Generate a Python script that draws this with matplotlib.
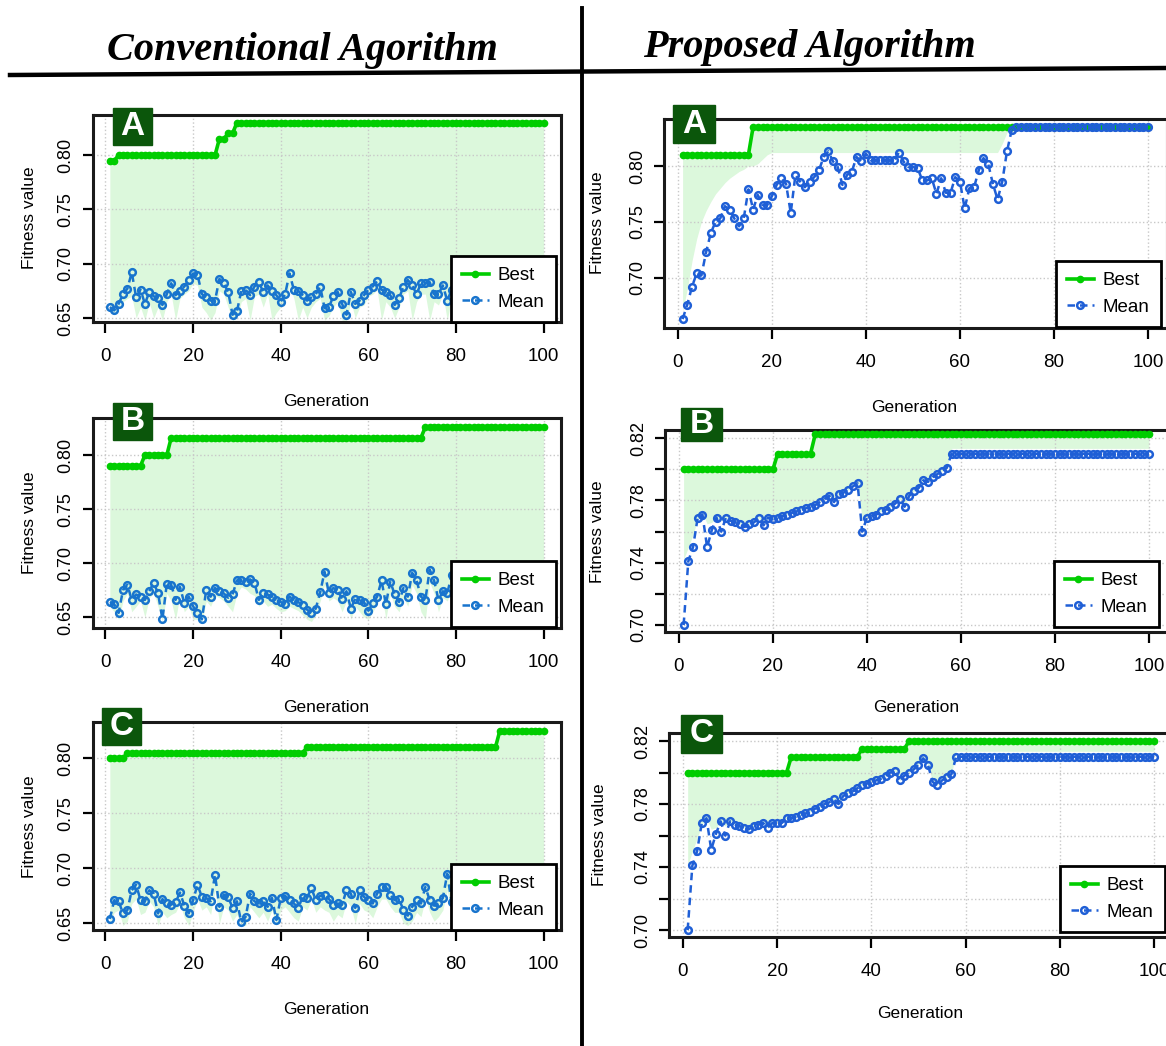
import numpy as np
import matplotlib.pyplot as plt
from matplotlib.lines import Line2D
from matplotlib.patches import Rectangle

W, H = 1166, 1046

gens = np.arange(1, 101)

# ---- conventional algorithm ----
left_a_best = np.repeat([0.795, 0.80, 0.815, 0.82, 0.83], [2, 23, 2, 2, 71])
left_a_mean = [0.660, 0.657, 0.663, 0.672, 0.677, 0.692, 0.669, 0.676, 0.663, 0.674,
               0.670, 0.668, 0.662, 0.672, 0.682, 0.671, 0.675, 0.679, 0.685, 0.691,
               0.690, 0.672, 0.669, 0.666, 0.666, 0.686, 0.682, 0.674, 0.653, 0.656,
               0.675, 0.676, 0.671, 0.679, 0.683, 0.674, 0.680, 0.675, 0.671, 0.665,
               0.672, 0.691, 0.676, 0.675, 0.671, 0.666, 0.669, 0.672, 0.679, 0.659,
               0.660, 0.670, 0.674, 0.663, 0.653, 0.674, 0.663, 0.666, 0.671, 0.676,
               0.679, 0.684, 0.676, 0.674, 0.671, 0.662, 0.668, 0.679, 0.685, 0.680,
               0.672, 0.682, 0.682, 0.683, 0.672, 0.672, 0.680, 0.666, 0.676, 0.688,
               0.680, 0.694, 0.675, 0.680, 0.670, 0.675, 0.678, 0.668, 0.672, 0.680,
               0.676, 0.672, 0.678, 0.670, 0.674, 0.680, 0.676, 0.672, 0.678, 0.674]
left_a_median = [0.658, 0.655, 0.660, 0.665, 0.668, 0.670, 0.650, 0.660, 0.648, 0.664,
                 0.650, 0.660, 0.648, 0.665, 0.672, 0.648, 0.668, 0.672, 0.675, 0.682,
                 0.680, 0.660, 0.655, 0.648, 0.655, 0.675, 0.672, 0.660, 0.648, 0.650,
                 0.665, 0.668, 0.648, 0.670, 0.672, 0.660, 0.672, 0.648, 0.655, 0.660,
                 0.665, 0.680, 0.668, 0.648, 0.660, 0.650, 0.660, 0.665, 0.668, 0.648,
                 0.652, 0.660, 0.665, 0.648, 0.648, 0.665, 0.650, 0.660, 0.662, 0.670,
                 0.672, 0.676, 0.648, 0.665, 0.660, 0.650, 0.660, 0.672, 0.675, 0.648,
                 0.665, 0.672, 0.672, 0.648, 0.665, 0.662, 0.672, 0.648, 0.668, 0.680,
                 0.672, 0.684, 0.665, 0.670, 0.660, 0.665, 0.670, 0.660, 0.665, 0.670,
                 0.668, 0.665, 0.670, 0.660, 0.665, 0.670, 0.668, 0.665, 0.670, 0.668]

left_b_best = np.repeat([0.79, 0.80, 0.816, 0.826], [8, 6, 58, 28])
left_b_mean = [0.664, 0.662, 0.654, 0.675, 0.680, 0.666, 0.671, 0.669, 0.666, 0.674,
               0.682, 0.672, 0.648, 0.681, 0.680, 0.666, 0.678, 0.663, 0.669, 0.660,
               0.654, 0.648, 0.675, 0.669, 0.677, 0.674, 0.672, 0.668, 0.671, 0.684,
               0.684, 0.683, 0.685, 0.682, 0.666, 0.672, 0.671, 0.669, 0.666, 0.664,
               0.662, 0.669, 0.666, 0.664, 0.661, 0.657, 0.654, 0.658, 0.673, 0.692,
               0.672, 0.677, 0.675, 0.667, 0.674, 0.658, 0.667, 0.666, 0.664, 0.656,
               0.663, 0.669, 0.684, 0.662, 0.683, 0.671, 0.664, 0.677, 0.669, 0.691,
               0.684, 0.669, 0.666, 0.694, 0.684, 0.666, 0.674, 0.672, 0.689, 0.652,
               0.657, 0.658, 0.662, 0.666, 0.670, 0.668, 0.672, 0.675, 0.670, 0.668,
               0.673, 0.676, 0.671, 0.669, 0.674, 0.672, 0.670, 0.675, 0.673, 0.671]
left_b_median = [0.660, 0.655, 0.648, 0.665, 0.672, 0.655, 0.660, 0.665, 0.650, 0.668,
                 0.672, 0.660, 0.646, 0.672, 0.665, 0.648, 0.670, 0.655, 0.660, 0.648,
                 0.648, 0.646, 0.665, 0.660, 0.670, 0.668, 0.665, 0.660, 0.655, 0.672,
                 0.678, 0.676, 0.672, 0.670, 0.660, 0.665, 0.660, 0.662, 0.658, 0.655,
                 0.656, 0.660, 0.658, 0.656, 0.652, 0.648, 0.646, 0.652, 0.665, 0.680,
                 0.665, 0.668, 0.665, 0.655, 0.665, 0.648, 0.660, 0.655, 0.650, 0.648,
                 0.655, 0.662, 0.672, 0.648, 0.672, 0.660, 0.655, 0.668, 0.660, 0.680,
                 0.672, 0.655, 0.648, 0.682, 0.672, 0.655, 0.668, 0.665, 0.675, 0.646,
                 0.650, 0.652, 0.655, 0.660, 0.662, 0.660, 0.665, 0.668, 0.662, 0.660,
                 0.665, 0.662, 0.668, 0.665, 0.660, 0.668, 0.665, 0.662, 0.665, 0.662]

left_c_best = np.repeat([0.80, 0.805, 0.81, 0.825], [4, 41, 44, 11])
left_c_mean = [0.654, 0.671, 0.670, 0.659, 0.662, 0.680, 0.685, 0.671, 0.670, 0.680,
               0.677, 0.659, 0.672, 0.668, 0.667, 0.669, 0.678, 0.666, 0.659, 0.671,
               0.685, 0.674, 0.673, 0.670, 0.694, 0.665, 0.676, 0.674, 0.664, 0.670,
               0.651, 0.656, 0.677, 0.670, 0.668, 0.670, 0.665, 0.673, 0.653, 0.673,
               0.675, 0.671, 0.668, 0.664, 0.674, 0.673, 0.682, 0.671, 0.675, 0.676,
               0.672, 0.667, 0.668, 0.667, 0.680, 0.677, 0.664, 0.680, 0.674, 0.671,
               0.668, 0.677, 0.683, 0.683, 0.676, 0.671, 0.672, 0.662, 0.657, 0.665,
               0.671, 0.668, 0.683, 0.671, 0.666, 0.668, 0.673, 0.695, 0.669, 0.670,
               0.674, 0.682, 0.676, 0.672, 0.678, 0.674, 0.670, 0.676, 0.679, 0.673,
               0.671, 0.677, 0.674, 0.670, 0.675, 0.678, 0.672, 0.674, 0.676, 0.673]
left_c_median = [0.650, 0.660, 0.662, 0.648, 0.652, 0.668, 0.672, 0.658, 0.660, 0.670,
                 0.665, 0.648, 0.660, 0.655, 0.658, 0.660, 0.668, 0.655, 0.648, 0.660,
                 0.672, 0.662, 0.665, 0.658, 0.680, 0.650, 0.665, 0.662, 0.652, 0.658,
                 0.648, 0.648, 0.665, 0.660, 0.655, 0.660, 0.652, 0.662, 0.648, 0.662,
                 0.665, 0.660, 0.655, 0.652, 0.665, 0.662, 0.672, 0.660, 0.665, 0.662,
                 0.660, 0.652, 0.658, 0.655, 0.670, 0.665, 0.650, 0.668, 0.662, 0.660,
                 0.655, 0.665, 0.672, 0.672, 0.665, 0.660, 0.660, 0.650, 0.648, 0.652,
                 0.660, 0.656, 0.672, 0.660, 0.652, 0.656, 0.662, 0.680, 0.658, 0.660,
                 0.665, 0.672, 0.665, 0.662, 0.668, 0.665, 0.660, 0.665, 0.668, 0.662,
                 0.660, 0.665, 0.662, 0.660, 0.665, 0.668, 0.662, 0.660, 0.665, 0.662]

# ---- proposed algorithm ----
right_a_best = np.repeat([0.81, 0.835], [15, 85])
right_a_mean = np.concatenate([
    [0.663, 0.676, 0.692, 0.704, 0.702, 0.723, 0.740, 0.750, 0.753, 0.764,
     0.761, 0.753, 0.746, 0.753, 0.779, 0.761, 0.774, 0.765, 0.765, 0.773,
     0.783, 0.789, 0.784, 0.758, 0.792, 0.786, 0.781, 0.786, 0.790, 0.796,
     0.808, 0.813, 0.804, 0.799, 0.783, 0.792, 0.795, 0.808, 0.804, 0.811,
     0.805, 0.805, 0.805, 0.805, 0.805, 0.805, 0.812, 0.804, 0.799, 0.799,
     0.798, 0.787, 0.787, 0.789, 0.775, 0.789, 0.776, 0.776, 0.790, 0.786,
     0.762, 0.780, 0.781, 0.796, 0.807, 0.802, 0.784, 0.770, 0.786, 0.813,
     0.832],
    np.repeat(0.835, 29)])
right_a_median = np.concatenate([
    [0.670, 0.690, 0.715, 0.735, 0.750, 0.760, 0.768, 0.775, 0.780, 0.785,
     0.789, 0.792, 0.795, 0.797, 0.800, 0.800, 0.802, 0.806, 0.810],
    np.repeat(0.812, 49), [0.820, 0.830], np.repeat(0.835, 30)])

right_b_best = np.repeat([0.80, 0.81, 0.8225], [20, 8, 72])
right_b_mean = np.concatenate([
    [0.700, 0.741, 0.750, 0.769, 0.771, 0.750, 0.761, 0.769, 0.760, 0.769,
     0.767, 0.766, 0.765, 0.763, 0.765, 0.766, 0.769, 0.764, 0.769, 0.768,
     0.769, 0.770, 0.771, 0.772, 0.773, 0.774, 0.775, 0.776, 0.777, 0.779,
     0.781, 0.783, 0.779, 0.784, 0.785, 0.787, 0.789, 0.791, 0.760, 0.769,
     0.770, 0.771, 0.773, 0.774, 0.776, 0.778, 0.781, 0.776, 0.783, 0.786,
     0.788, 0.793, 0.792, 0.795, 0.797, 0.799, 0.801, 0.810],
    np.repeat(0.81, 42)])
right_b_median = np.concatenate([
    [0.742, 0.750, 0.758, 0.768, 0.772, 0.765, 0.766, 0.769, 0.767, 0.769],
    right_b_mean[10:38], [0.7675], right_b_mean[39:57], np.repeat(0.8135, 43)])

right_c_best = np.repeat([0.80, 0.81, 0.815, 0.82], [22, 15, 10, 53])
right_c_mean = np.concatenate([
    [0.700, 0.741, 0.750, 0.768, 0.771, 0.751, 0.761, 0.769, 0.760, 0.769,
     0.767, 0.766, 0.765, 0.764, 0.766, 0.767, 0.768, 0.765, 0.768, 0.768,
     0.768, 0.771, 0.771, 0.772, 0.773, 0.774, 0.775, 0.777, 0.778, 0.780,
     0.781, 0.783, 0.780, 0.785, 0.787, 0.788, 0.790, 0.792, 0.793, 0.794,
     0.795, 0.796, 0.798, 0.800, 0.801, 0.795, 0.798, 0.800, 0.802, 0.805,
     0.809, 0.805, 0.794, 0.792, 0.795, 0.797, 0.799, 0.810],
    np.repeat(0.81, 42)])
right_c_median = np.concatenate([
    [0.741, 0.750, 0.758, 0.767, 0.771, 0.764, 0.765, 0.769, 0.766, 0.769],
    right_c_mean[10:57], np.repeat(0.8135, 43)])

column_titles = ["Conventional Agorithm", "Proposed Algorithm"]
panel_letters = ["A", "B", "C"]
x_ticks = [0, 20, 40, 60, 80, 100]

GREEN = "#00cd00"
FILL = "#dcf8dc"
BOX = "#0b560b"

plt.rcParams['font.family'] = ['Liberation Sans', 'DejaVu Sans']

fig = plt.figure(figsize=(W / 100, H / 100), dpi=100)


def fbox(l, t, r, b):
    return [l / W, 1 - b / H, (r - l) / W, (b - t) / H]


def draw_panel(ax, best, mean, median, ylim, yticks, ylabels, mean_col):
    ax.fill_between(gens, median, best, color=FILL, lw=0, zorder=1)
    ax.grid(True, color='#c8c8c8', linestyle=':', linewidth=1, zorder=0)
    ax.plot(gens, best, color=GREEN, lw=2.6, marker='o', ms=4.5, zorder=3, label='Best')
    ax.plot(gens, mean, color=mean_col, lw=1.8, ls=(0, (3, 2)), marker='o', ms=4.8,
            mfc='none', mew=1.8, zorder=3, label='Mean')
    ax.set_xlim(-2.96, 103.96)
    ax.set_ylim(*ylim)
    ax.set_xticks(x_ticks)
    ax.set_xticklabels([str(t) for t in x_ticks], fontsize=13.5)
    ax.set_yticks(yticks)
    ax.set_yticklabels(ylabels, rotation=90, va='center', fontsize=13)
    ax.tick_params(axis='x', length=8, width=1.6, pad=11)
    ax.tick_params(axis='y', length=7, width=1.6, pad=6)
    for s in ax.spines.values():
        s.set_linewidth(2.2)
        s.set_color('#1a1a1a')
    ax.set_facecolor('white')


left_ticks = [0.65, 0.70, 0.75, 0.80]
left_labels = ["0.65", "0.70", "0.75", "0.80"]
fine_ticks = [0.70, 0.72, 0.74, 0.76, 0.78, 0.80, 0.82]
fine_labels = ["0.70", "", "0.74", "", "0.78", "", "0.82"]

panels = [
    # series, axes box px, ylim, ticks, labels, colour, letter box, legend (right, bottom),
    # xlabel pos, ylabel pos
    (left_a_best, left_a_mean, left_a_median, (92.5, 115, 561, 322), (0.6463, 0.837),
     left_ticks, left_labels, "#1874cd", (113, 108, 152, 145), (556, 322), (326, 402), (30, 218)),
    (left_b_best, left_b_mean, left_b_median, (92.5, 418, 561, 628), (0.640, 0.8343),
     left_ticks, left_labels, "#1874cd", (113, 403, 152, 440), (556, 627), (326, 707), (30, 523)),
    (left_c_best, left_c_mean, left_c_median, (92.5, 722, 561, 930), (0.6439, 0.833),
     left_ticks, left_labels, "#1874cd", (102, 708, 141, 745), (556, 930), (326, 1010), (30, 827)),
    (right_a_best, right_a_mean, right_a_median, (664, 119, 1166.6, 328), (0.655, 0.842),
     [0.70, 0.75, 0.80], ["0.70", "0.75", "0.80"], "#1f5fd6", (673, 105, 715, 143), (1161, 327),
     (914, 407), (597, 223)),
    (right_b_best, right_b_mean, right_b_median, (665, 430, 1167.6, 632), (0.6955, 0.8253),
     fine_ticks, fine_labels, "#1f5fd6", (681, 408, 722, 441), (1159, 627), (916, 708), (597, 532)),
    (right_c_best, right_c_mean, right_c_median, (669, 733, 1172.7, 937), (0.6956, 0.8251),
     fine_ticks, fine_labels, "#1f5fd6", (681, 715, 722, 753), (1165, 932), (920, 1013), (600, 835)),
]

for i, (best, mean, median, box, ylim, yt, yl, col, lbox, leg, xl, yl_pos) in enumerate(panels):
    ax = fig.add_axes(fbox(*box))
    draw_panel(ax, best, mean, median, ylim, yt, yl, col)
    lg = ax.legend(loc='lower right', bbox_to_anchor=(leg[0] / W, 1 - leg[1] / H),
                   bbox_transform=fig.transFigure, borderaxespad=0, fontsize=13.5,
                   handlelength=1.4, handletextpad=0.5, borderpad=0.6, labelspacing=0.5,
                   fancybox=False, framealpha=1, edgecolor='black')
    lg.get_frame().set_linewidth(2)
    lg.set_zorder(5)
    fig.text(xl[0] / W, 1 - xl[1] / H, "Generation", ha='center', va='center', fontsize=12.5)
    fig.text(yl_pos[0] / W, 1 - yl_pos[1] / H, "Fitness value", ha='center', va='center',
             rotation=90, fontsize=12.5)
    l, t, r, b = lbox
    fig.patches.append(Rectangle((l / W, 1 - b / H), (r - l) / W, (b - t) / H,
                                 transform=fig.transFigure, color=BOX, zorder=10))
    fig.text((l + r) / 2 / W, 1 - (t + b) / 2 / H, panel_letters[i % 3], ha='center',
             va='center', color='white', fontsize=24, fontweight='bold', zorder=11)

# column headers and dividing lines
fig.text(302 / W, 1 - 60 / H, column_titles[0], ha='center', va='baseline',
         family='Liberation Serif', fontsize=29, fontweight='bold', style='italic')
fig.text(809 / W, 1 - 57 / H, column_titles[1], ha='center', va='baseline',
         family='Liberation Serif', fontsize=29, fontweight='bold', style='italic')
fig.add_artist(Line2D([10 / W, 1.0], [1 - 75 / H, 1 - 68 / H], color='black', lw=3.2,
                      transform=fig.transFigure))
fig.add_artist(Line2D([582 / W, 582 / W], [1 - 8 / H, 0], color='black', lw=2.8,
                      transform=fig.transFigure))

fig.savefig("out.png", dpi=100, facecolor='white')
